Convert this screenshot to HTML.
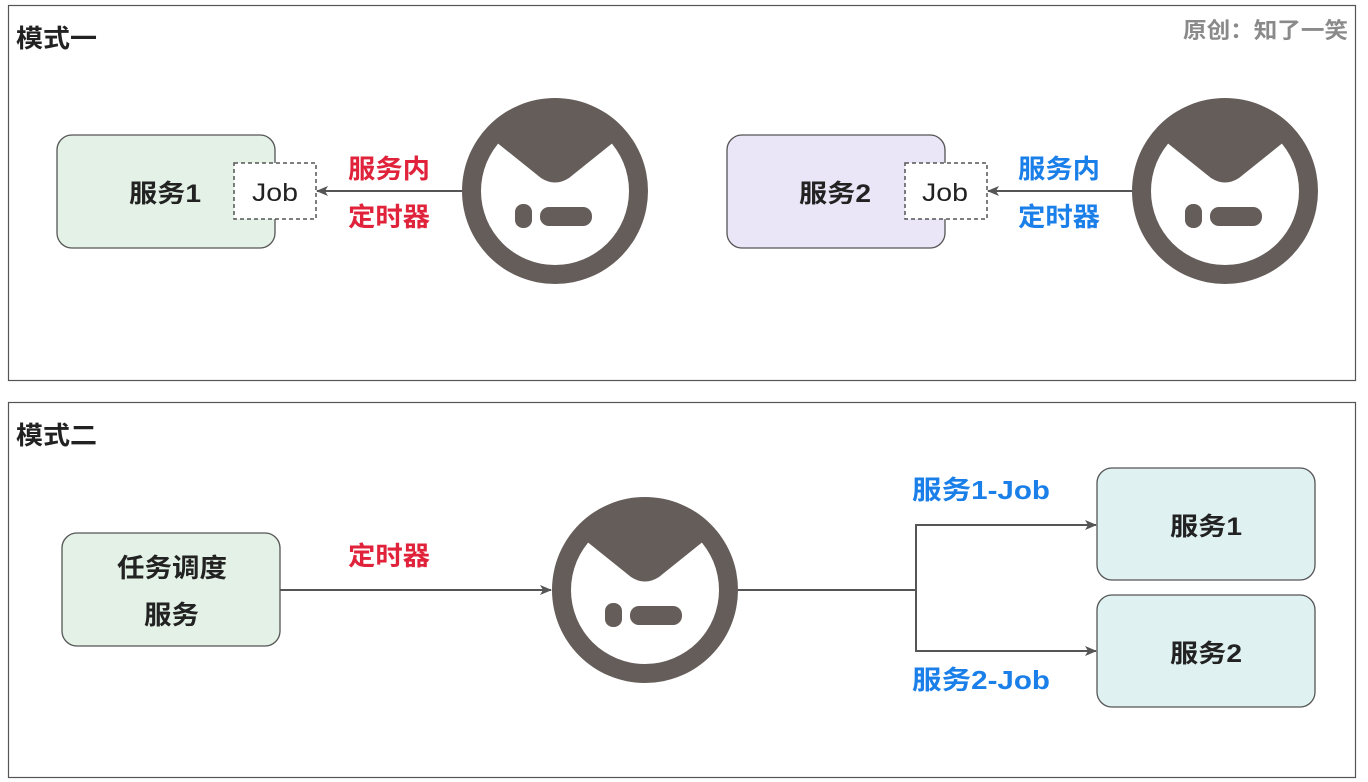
<!DOCTYPE html>
<html><head><meta charset="utf-8"><style>
html,body{margin:0;padding:0;background:#fff;}
svg{display:block;}
text{font-family:"Liberation Sans","Noto Sans CJK SC",sans-serif;font-weight:bold;}
</style></head><body>
<svg width="1368" height="782" viewBox="0 0 1368 782" xmlns="http://www.w3.org/2000/svg">
<defs>
<marker id="ar" markerWidth="12" markerHeight="10" refX="11" refY="5" orient="auto" markerUnits="userSpaceOnUse">
<path d="M0,0 L12,5 L0,10 L3,5 Z" fill="#555"/>
</marker>
<clipPath id="ic"><circle cx="0" cy="0" r="80"/></clipPath>
<g id="logo">
<circle cx="0" cy="0" r="93" fill="#655d5a"/>
<circle cx="0" cy="0" r="74" fill="#fff"/>
<path d="M-100,-82 L-14,-13 Q0,-4 14,-13 L100,-82 L100,-100 L-100,-100 Z" fill="#655d5a" clip-path="url(#ic)"/>
<rect x="-40" y="13" width="17" height="24" rx="8" fill="#655d5a"/>
<rect x="-15" y="16" width="52" height="19" rx="9" fill="#655d5a"/>
</g>
</defs>
<rect x="8.5" y="5.5" width="1347" height="375" fill="#fff" stroke="#555" stroke-width="1.2"/>
<rect x="8.5" y="402.5" width="1347" height="375" fill="#fff" stroke="#555" stroke-width="1.2"/>
<text x="16" y="47" font-size="25" fill="#222" textLength="81" lengthAdjust="spacingAndGlyphs">模式一</text>
<text x="16" y="444" font-size="25" fill="#222" textLength="81" lengthAdjust="spacingAndGlyphs">模式二</text>
<text x="1183" y="38" font-size="22" fill="#8a8a8a" textLength="165" lengthAdjust="spacingAndGlyphs">原创：知了一笑</text>

<rect x="57" y="135" width="218" height="113" rx="15" fill="#e3f1e6" stroke="#555" stroke-width="1.3"/>
<text x="129" y="202" font-size="25" fill="#222" textLength="72" lengthAdjust="spacingAndGlyphs">服务1</text>
<rect x="234" y="163" width="82" height="56" fill="#fff" stroke="#555" stroke-width="1.5" stroke-dasharray="4,3"/>
<text x="252" y="201" font-size="25" fill="#222" style="font-weight:normal" textLength="46" lengthAdjust="spacingAndGlyphs">Job</text>
<line x1="462" y1="191" x2="317" y2="191" stroke="#555" stroke-width="2" marker-end="url(#ar)"/>
<text x="348" y="178" font-size="26" fill="#e0233b" textLength="82" lengthAdjust="spacingAndGlyphs">服务内</text>
<text x="348" y="226" font-size="26" fill="#e0233b" textLength="82" lengthAdjust="spacingAndGlyphs">定时器</text>
<use href="#logo" transform="translate(555,191)"/>

<rect x="727" y="135" width="218" height="113" rx="15" fill="#ebe6f7" stroke="#555" stroke-width="1.3"/>
<text x="799" y="202" font-size="25" fill="#222" textLength="72" lengthAdjust="spacingAndGlyphs">服务2</text>
<rect x="905" y="163" width="82" height="56" fill="#fff" stroke="#555" stroke-width="1.5" stroke-dasharray="4,3"/>
<text x="922" y="201" font-size="25" fill="#222" style="font-weight:normal" textLength="46" lengthAdjust="spacingAndGlyphs">Job</text>
<line x1="1133" y1="191" x2="988" y2="191" stroke="#555" stroke-width="2" marker-end="url(#ar)"/>
<text x="1018" y="178" font-size="26" fill="#1a7fe8" textLength="82" lengthAdjust="spacingAndGlyphs">服务内</text>
<text x="1018" y="226" font-size="26" fill="#1a7fe8" textLength="82" lengthAdjust="spacingAndGlyphs">定时器</text>
<use href="#logo" transform="translate(1225,191)"/>

<rect x="62" y="533" width="218" height="113" rx="15" fill="#e3f1e6" stroke="#555" stroke-width="1.3"/>
<text x="117" y="577" font-size="26" fill="#222" textLength="110" lengthAdjust="spacingAndGlyphs">任务调度</text>
<text x="144" y="624" font-size="26" fill="#222" textLength="55" lengthAdjust="spacingAndGlyphs">服务</text>
<line x1="280" y1="590" x2="551" y2="590" stroke="#555" stroke-width="2" marker-end="url(#ar)"/>
<text x="348" y="565" font-size="26" fill="#e0233b" textLength="82" lengthAdjust="spacingAndGlyphs">定时器</text>
<use href="#logo" transform="translate(645,590)"/>
<polyline points="738,590 916,590" fill="none" stroke="#555" stroke-width="2"/>
<polyline points="916,590 916,525 1096,525" fill="none" stroke="#555" stroke-width="2" marker-end="url(#ar)"/>
<polyline points="916,590 916,651 1096,651" fill="none" stroke="#555" stroke-width="2" marker-end="url(#ar)"/>
<text x="912" y="499" font-size="26" fill="#1a7fe8" textLength="138" lengthAdjust="spacingAndGlyphs">服务1-Job</text>
<text x="912" y="689" font-size="26" fill="#1a7fe8" textLength="138" lengthAdjust="spacingAndGlyphs">服务2-Job</text>
<rect x="1097" y="468" width="218" height="112" rx="15" fill="#e0f1f1" stroke="#555" stroke-width="1.3"/>
<text x="1170" y="535" font-size="25" fill="#222" textLength="72" lengthAdjust="spacingAndGlyphs">服务1</text>
<rect x="1097" y="595" width="218" height="112" rx="15" fill="#e0f1f1" stroke="#555" stroke-width="1.3"/>
<text x="1170" y="662" font-size="25" fill="#222" textLength="72" lengthAdjust="spacingAndGlyphs">服务2</text>
</svg>
</body></html>
